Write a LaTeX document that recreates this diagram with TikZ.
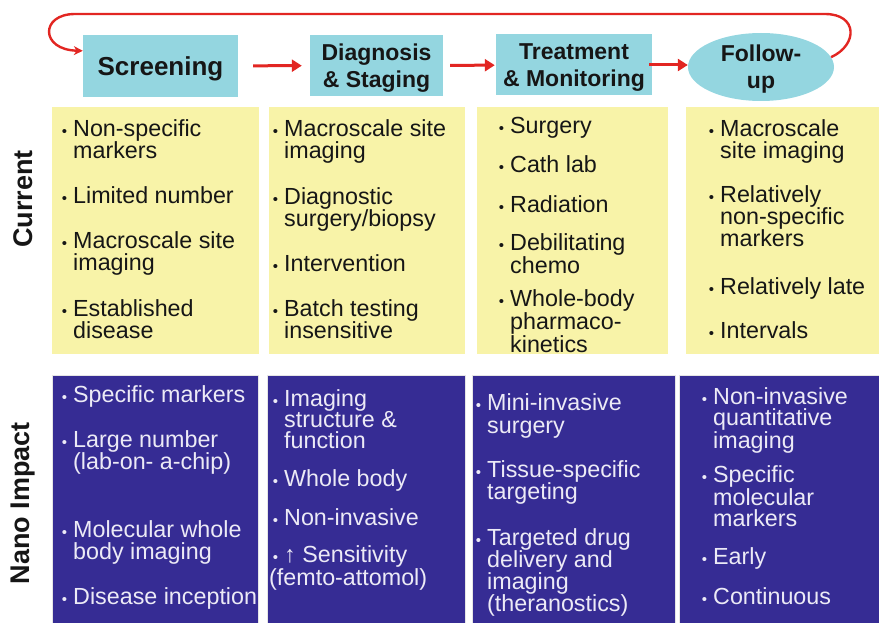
\documentclass[tikz,border=0pt]{standalone}
\usepackage{fontspec}
\setmainfont{Liberation Sans}
\usepackage{xcolor}
\usetikzlibrary{shapes.geometric, arrows.meta, positioning, calc}

\definecolor{stagecyan}{RGB}{148,214,224}
\definecolor{curyellow}{RGB}{248,243,168}
\definecolor{nanoblue}{RGB}{54,44,148}
\definecolor{flowred}{RGB}{226,38,34}
\definecolor{paletext}{RGB}{236,234,246}
\definecolor{darktext}{RGB}{22,22,22}

\newcommand{\bul}{\llap{{\fontsize{15}{15}\selectfont\textbullet}\hspace{6pt}}}

\begin{document}
\begin{tikzpicture}[
    x=1pt, y=-1pt,
    stage/.style={rectangle, fill=stagecyan, text=darktext, align=center, inner sep=0pt, text depth=0pt, font=\bfseries\fontsize{23}{27}\selectfont},
    curbox/.style={rectangle, fill=curyellow, anchor=north west, inner sep=0pt, minimum height=247pt},
    nanobox/.style={rectangle, fill=nanoblue, draw=white!80!gray, line width=0.6pt, anchor=north west, inner sep=0pt, minimum height=250pt},
    item/.style={anchor=base west, align=left, inner sep=0pt, font=\fontsize{23.3}{22}\selectfont},
    tight/.style={item, font=\fontsize{23.3}{21}\selectfont},
    rowlabel/.style={rotate=90, text=darktext, font=\bfseries\fontsize{27}{27}\selectfont},
    flow/.style={-{Triangle[length=10pt, width=12pt]}, flowred, line width=3pt},
    loop/.style={-{Stealth[length=9pt, width=9pt]}, flowred, line width=2.4pt}
]
    \useasboundingbox (0,0) rectangle (879,623);

    % Stages - Top
    \node[stage, minimum width=155pt, minimum height=62pt, font=\bfseries\fontsize{26}{27}\selectfont] (screen) at (160.5,66) {Screening};
    \node[stage, minimum width=133pt, minimum height=61pt] (diag) at (376.5,65.5) {Diagnosis\\\& Staging};
    \node[stage, minimum width=156pt, minimum height=61pt] (treat) at (574,65) {Treatment\\\& Monitoring};
    \node[stage, ellipse, minimum width=146pt, minimum height=68pt] (follow) at (761,67) {Follow-\\up};

    % Arrows
    \draw[flow, shorten <=15pt, shorten >=8pt] (screen) -- (diag);
    \draw[flow, shorten <=7pt, shorten >=1pt] (diag) -- (treat);
    \draw[flow, shorten <=-3pt] (treat.east) -- (treat.east -| follow.west);
    \draw[loop] (follow.8) .. controls (858,45) and (858,14) .. (825,14) -- (75,14)
        .. controls (40,14) and (40,50) .. ([yshift=-16pt]screen.north west);

    % Row labels
    \node[rowlabel] (curlabel) at (23,199) {Current};
    \node[rowlabel] (nanolabel) at (23,503) {Nano Impact};

    % Current row (items sit on the baseline of their last line)
    \node[curbox, minimum width=207pt] (cur1) at (52,107) {};
    \node[curbox, minimum width=196pt] (cur2) at (269,107) {};
    \node[curbox, minimum width=191pt] (cur3) at (477,107) {};
    \node[curbox, minimum width=193pt] (cur4) at (686,107) {};

    \begin{scope}[text=darktext]
        \node[item] (c1a) at (73,159) {\bul Non-specific\\markers};
        \node[item] (c1b) at (73,204) {\bul Limited number};
        \node[item] (c1c) at (73,270) {\bul Macroscale site\\imaging};
        \node[item] (c1d) at (73,338) {\bul Established\\disease};

        \node[item] (c2a) at (284,159) {\bul Macroscale site\\imaging};
        \node[item] (c2b) at (284,226) {\bul Diagnostic\\surgery/biopsy};
        \node[item] (c2c) at (284,271) {\bul Intervention};
        \node[item] (c2d) at (284,338) {\bul Batch testing\\insensitive};

        \node[item] (c3a) at (510,134) {\bul Surgery};
        \node[item] (c3b) at (510,173) {\bul Cath lab};
        \node[item] (c3c) at (510,213) {\bul Radiation};
        \node[tight] (c3d) at (510,273) {\bul Debilitating\\chemo};
        \node[tight] (c3e) at (510,352) {\bul Whole-body\\pharmaco-\\kinetics};

        \node[item] (c4a) at (720,159) {\bul Macroscale\\site imaging};
        \node[item] (c4b) at (720,247) {\bul Relatively\\non-specific\\markers};
        \node[item] (c4c) at (720,294) {\bul Relatively late};
        \node[item] (c4d) at (720,338) {\bul Intervals};
    \end{scope}

    % Nano impact row
    \node[nanobox, minimum width=206pt] (nano1) at (52,375) {};
    \node[nanobox, minimum width=198pt] (nano2) at (267,375) {};
    \node[nanobox, minimum width=203pt] (nano3) at (472,375) {};
    \node[nanobox, minimum width=202pt] (nano4) at (679,375) {};

    \begin{scope}[text=paletext]
        \node[item] (n1a) at (73,402) {\bul Specific markers};
        \node[item] (n1b) at (73,469) {\bul Large number\\(lab-on- a-chip)};
        \node[item] (n1c) at (73,559) {\bul Molecular whole\\body imaging};
        \node[item] (n1d) at (73,604) {\bul Disease inception};

        \node[tight] (n2a) at (284,448) {\bul Imaging\\structure \&\\function};
        \node[item] (n2b) at (284,486) {\bul Whole body};
        \node[item] (n2c) at (284,525) {\bul Non-invasive};
        \node[tight] (n2d) at (284,585) {\bul ↑ Sensitivity\\\hspace{-15pt}(femto-attomol)};

        \node[item, font=\fontsize{23.3}{23}\selectfont] (n3a) at (487,433) {\bul Mini-invasive\\surgery};
        \node[item] (n3b) at (487,499) {\bul Tissue-specific\\targeting};
        \node[item] (n3c) at (487,611) {\bul Targeted drug\\delivery and\\imaging\\(theranostics)};

        \node[tight] (n4a) at (713,448) {\bul Non-invasive\\quantitative\\imaging};
        \node[tight] (n4b) at (713,526) {\bul Specific\\molecular\\markers};
        \node[item] (n4c) at (713,564) {\bul Early};
        \node[item] (n4d) at (713,604) {\bul Continuous};
    \end{scope}
\end{tikzpicture}
\end{document}
